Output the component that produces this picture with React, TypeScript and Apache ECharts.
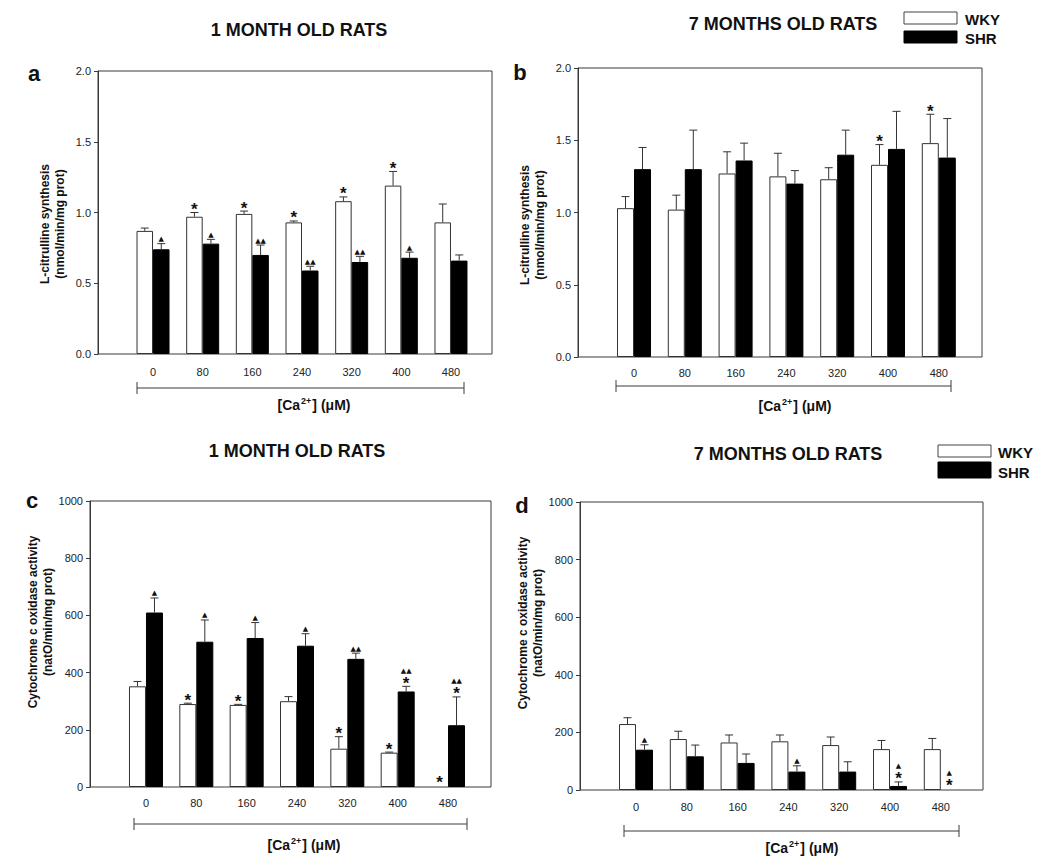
import React, { useEffect, useRef } from "react";
import * as echarts from "echarts";

// ---------- DATA ----------
const categories = ["0", "80", "160", "240", "320", "400", "480"];

// Panel a: L-citrulline synthesis, 1 month old rats
const wkyA = [0.87, 0.97, 0.99, 0.93, 1.08, 1.19, 0.93];
const wkyAErr = [0.02, 0.03, 0.02, 0.01, 0.03, 0.1, 0.13];
const shrA = [0.74, 0.78, 0.7, 0.59, 0.65, 0.68, 0.66];
const shrAErr = [0.04, 0.03, 0.07, 0.03, 0.04, 0.04, 0.04];
const wkyAStar = ["", "*", "*", "*", "*", "*", ""];
const shrATri = ["▲", "▲", "▲▲", "▲▲", "▲▲", "▲", ""];

// Panel b: L-citrulline synthesis, 7 months old rats
const wkyB = [1.03, 1.02, 1.27, 1.25, 1.23, 1.33, 1.48];
const wkyBErr = [0.08, 0.1, 0.15, 0.16, 0.08, 0.14, 0.2];
const shrB = [1.3, 1.3, 1.36, 1.2, 1.4, 1.44, 1.38];
const shrBErr = [0.15, 0.27, 0.12, 0.09, 0.17, 0.26, 0.27];
const wkyBStar = ["", "", "", "", "", "*", "*"];

// Panel c: Cytochrome c oxidase activity, 1 month old rats
const wkyC = [352, 290, 287, 300, 134, 120, 0];
const wkyCErr = [17, 3, 2, 16, 42, 2, 0];
const shrC = [610, 508, 521, 494, 448, 334, 216];
const shrCErr = [51, 76, 54, 42, 20, 18, 99];
const wkyCStar = ["", "*", "*", "", "*", "*", "*"];
const shrCStar = ["", "", "", "", "", "*", "*"];
const shrCTri = ["▲", "▲", "▲", "▲", "▲▲", "▲▲", "▲▲"];

// Panel d: Cytochrome c oxidase activity, 7 months old rats
const wkyD = [229, 177, 165, 169, 156, 142, 142];
const wkyDErr = [22, 27, 26, 22, 28, 30, 37];
const shrD = [140, 117, 94, 64, 64, 14, 0];
const shrDErr = [17, 39, 31, 20, 34, 14, 0];
const shrDStar = ["", "", "", "", "", "*", "*"];
const shrDTri = ["▲", "", "", "▲", "", "▲", "▲"];

// Tick settings
const citMax = 2;
const citInterval = 0.5;
const coxMax = 1000;
const coxInterval = 200;

// ---------- STYLE / LAYOUT ----------
const FONT = "'Liberation Sans', Arial, Helvetica, sans-serif";
const AXIS = "#3a3a3a";
const INK = "#111";

function errSeries(
  idx: number,
  vals: number[],
  errs: number[],
  offset: number,
  stars: string[] | null,
  tris: string[] | null
) {
  return {
    type: "custom",
    xAxisIndex: idx,
    yAxisIndex: idx,
    z: 6,
    silent: true,
    data: vals.map((v, i) => [i, v, errs[i]]),
    renderItem: (params: any, api: any) => {
      const i = api.value(0);
      const v = api.value(1);
      const e = api.value(2);
      const base = api.coord([i, v]);
      const x = base[0] + offset;
      const topY = api.coord([i, v + e])[1];
      const children: any[] = [];
      if (e > 0) {
        children.push({
          type: "line",
          shape: { x1: x, y1: base[1], x2: x, y2: topY },
          style: { stroke: "#333", lineWidth: 1 },
        });
        children.push({
          type: "line",
          shape: { x1: x - 4, y1: topY, x2: x + 4, y2: topY },
          style: { stroke: "#333", lineWidth: 1 },
        });
      }
      let y = topY;
      const di = params.dataIndex;
      if (stars && stars[di]) {
        children.push({
          type: "text",
          style: {
            text: stars[di],
            x,
            y: y - (e > 0 ? 3 : 5),
            align: "center",
            textAlign: "center",
            verticalAlign: "middle",
            textVerticalAlign: "middle",
            font: `bold 17px ${FONT}`,
            fill: INK,
          },
        });
        y -= e > 0 ? 11 : 13;
      }
      if (tris && tris[di]) {
        children.push({
          type: "text",
          style: {
            text: tris[di],
            x,
            y: y - 1,
            align: "center",
            textAlign: "center",
            verticalAlign: "bottom",
            textVerticalAlign: "bottom",
            font: `7px 'DejaVu Sans', sans-serif`,
            fill: INK,
          },
        });
      }
      return { type: "group", children };
    },
  };
}

function txt(x: number, y: number, text: string, font: string, extra: any = {}) {
  return {
    type: "text",
    x,
    y,
    ...extra,
    style: {
      text,
      font,
      fill: INK,
      align: "center",
      textAlign: "center",
      verticalAlign: "middle",
      textVerticalAlign: "middle",
      ...(extra.style || {}),
    },
  };
}

function caLabel(x: number, y: number) {
  return {
    type: "text",
    x,
    y,
    style: {
      text: "{n|[Ca}{s|2+}{n|] (μM)}",
      align: "center",
      textAlign: "center",
      verticalAlign: "middle",
      textVerticalAlign: "middle",
      fill: INK,
      rich: {
        n: { fontSize: 14, fontWeight: "bold", fontFamily: FONT, fill: INK, lineHeight: 18 },
        s: { fontSize: 9, fontWeight: "bold", fontFamily: FONT, fill: INK, verticalAlign: "top", lineHeight: 18, padding: [0, 1, 0, 1] },
      },
    },
  };
}

function bracket(x1: number, x2: number, y: number) {
  return [
    { type: "line", shape: { x1, y1: y, x2, y2: y }, style: { stroke: AXIS, lineWidth: 1 } },
    { type: "line", shape: { x1, y1: y - 6, x2: x1, y2: y + 6 }, style: { stroke: AXIS, lineWidth: 1 } },
    { type: "line", shape: { x1: x2, y1: y - 6, x2, y2: y + 6 }, style: { stroke: AXIS, lineWidth: 1 } },
  ];
}

function legend(x: number, y1: number, h1: number, y2: number, h2: number, lx: number, ly1: number, ly2: number) {
  return [
    { type: "rect", shape: { x, y: y1, width: 53, height: h1 }, style: { fill: "#fff", stroke: "#444", lineWidth: 1 } },
    { type: "rect", shape: { x, y: y2, width: 53, height: h2 }, style: { fill: "#000", stroke: "#000", lineWidth: 1 } },
    txt(lx, ly1, "WKY", `bold 15px ${FONT}`, { style: { align: "left", textAlign: "left" } }),
    txt(lx, ly2, "SHR", `bold 15px ${FONT}`, { style: { align: "left", textAlign: "left" } }),
  ];
}

// zero-height bars draw nothing (no outline stub on the baseline)
function barData(vals: number[]) {
  return vals.map((v) => (v === 0 ? { value: 0, itemStyle: { borderWidth: 0, opacity: 0 } } : v));
}

function buildOption() {
  const panels = [
    {
      frame: [98, 71, 394, 283], barLeft: 128.2, barSpan: 347.6, bw: 16.5,
      max: citMax, interval: citInterval, dec: 1, labelMargin: 12,
      wky: wkyA, wkyErr: wkyAErr, shr: shrA, shrErr: shrAErr,
      wkyStar: wkyAStar, wkyTri: null, shrStar: null, shrTri: shrATri,
    },
    {
      frame: [578, 68, 404, 289], barLeft: 608.6, barSpan: 355.6, bw: 17,
      max: citMax, interval: citInterval, dec: 1, labelMargin: 10,
      wky: wkyB, wkyErr: wkyBErr, shr: shrB, shrErr: shrBErr,
      wkyStar: wkyBStar, wkyTri: null, shrStar: null, shrTri: null,
    },
    {
      frame: [90, 501, 401, 286], barLeft: 120.8, barSpan: 352.4, bw: 17,
      max: coxMax, interval: coxInterval, dec: 0, labelMargin: 10,
      wky: wkyC, wkyErr: wkyCErr, shr: shrC, shrErr: shrCErr,
      wkyStar: wkyCStar, wkyTri: null, shrStar: shrCStar, shrTri: shrCTri,
    },
    {
      frame: [580, 502, 403, 288], barLeft: 610.6, barSpan: 355.6, bw: 17,
      max: coxMax, interval: coxInterval, dec: 0, labelMargin: 11,
      wky: wkyD, wkyErr: wkyDErr, shr: shrD, shrErr: shrDErr,
      wkyStar: null, wkyTri: null, shrStar: shrDStar, shrTri: shrDTri,
    },
  ];

  const grid: any[] = [];
  const xAxis: any[] = [];
  const yAxis: any[] = [];
  const series: any[] = [];

  panels.forEach((p, k) => {
    const [l, t, w, h] = p.frame;
    const fi = 2 * k;
    const bi = 2 * k + 1;
    grid.push({ left: l, top: t, width: w, height: h, show: true, borderColor: AXIS, borderWidth: 1, backgroundColor: "transparent" });
    grid.push({ left: p.barLeft, top: t, width: p.barSpan, height: h });
    xAxis.push({ type: "value", gridIndex: fi, min: 0, max: 1, show: false });
    xAxis.push({
      type: "category", gridIndex: bi, data: categories,
      axisLine: { show: false }, axisTick: { show: false }, splitLine: { show: false },
      axisLabel: { margin: p.labelMargin, fontSize: 11, color: "#222", fontFamily: FONT },
    });
    yAxis.push({
      type: "value", gridIndex: fi, min: 0, max: p.max, interval: p.interval,
      axisLine: { show: true, lineStyle: { color: AXIS, width: 1 } },
      axisTick: { show: true, length: 4, lineStyle: { color: AXIS } },
      splitLine: { show: false },
      axisLabel: {
        margin: 7, fontSize: 11, color: "#222", fontFamily: FONT,
        formatter: (v: number) => v.toFixed(p.dec),
      },
    });
    yAxis.push({ type: "value", gridIndex: bi, min: 0, max: p.max, show: false });
    series.push({
      type: "bar", name: "WKY", xAxisIndex: bi, yAxisIndex: bi, data: barData(p.wky),
      barWidth: p.bw, barGap: "0%", z: 3,
      itemStyle: { color: "#fff", borderColor: "#333", borderWidth: 1 },
    });
    series.push({
      type: "bar", name: "SHR", xAxisIndex: bi, yAxisIndex: bi, data: barData(p.shr),
      barWidth: p.bw, barGap: "0%", z: 3,
      itemStyle: { color: "#000", borderColor: "#000", borderWidth: 1 },
    });
    series.push(errSeries(bi, p.wky, p.wkyErr, -p.bw / 2, p.wkyStar, p.wkyTri));
    series.push(errSeries(bi, p.shr, p.shrErr, p.bw / 2, p.shrStar, p.shrTri));
  });

  const titleFont = `bold 18px ${FONT}`;
  const letterFont = `bold 22px ${FONT}`;
  const yTitleFont = `bold 12px ${FONT}`;
  const citTitle = "L-citrulline synthesis\n(nmol/min/mg prot)";
  const coxTitle = "Cytochrome c oxidase activity\n(natO/min/mg prot)";
  const rot = { rotation: Math.PI / 2, style: { lineHeight: 15 } };

  const graphic: any[] = [
    txt(299, 30, "1 MONTH OLD RATS", titleFont),
    txt(783, 24, "7 MONTHS OLD RATS", titleFont),
    txt(297, 451, "1 MONTH OLD RATS", titleFont),
    txt(788, 454, "7 MONTHS OLD RATS", titleFont),
    txt(34, 73, "a", letterFont),
    txt(520, 72, "b", letterFont),
    txt(32, 500, "c", letterFont),
    txt(522, 505, "d", letterFont),
    txt(52.5, 224, citTitle, yTitleFont, rot),
    txt(532.5, 225, citTitle, yTitleFont, rot),
    txt(40.5, 622, coxTitle, yTitleFont, rot),
    txt(530.5, 623, coxTitle, yTitleFont, rot),
    ...bracket(137, 464, 388),
    ...bracket(616, 951, 386),
    ...bracket(134, 467, 824),
    ...bracket(624, 959, 831),
    caLabel(314, 405),
    caLabel(795, 406),
    caLabel(304, 845),
    caLabel(802, 848),
    ...legend(904, 12, 12, 31, 12, 965, 19, 38),
    ...legend(938, 445, 12, 462, 16, 998, 452, 472),
  ];

  return {
    animation: false,
    backgroundColor: "#fff",
    grid,
    xAxis,
    yAxis,
    series,
    graphic,
  };
}

export default function App() {
  const ref = useRef<HTMLDivElement>(null);
  useEffect(() => {
    if (!ref.current) return;
    const chart = echarts.init(ref.current, undefined, { renderer: "svg" });
    chart.setOption(buildOption() as any);
    return () => chart.dispose();
  }, []);
  return (
    <div
      ref={ref}
      style={{ position: "absolute", left: 0, top: 0, width: 1050, height: 866, background: "#fff" }}
    />
  );
}
